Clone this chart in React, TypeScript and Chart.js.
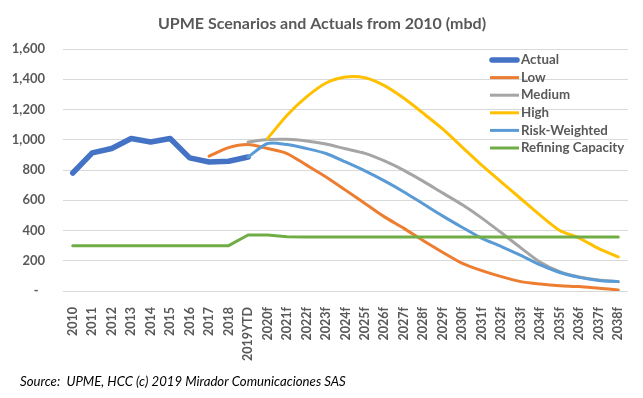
import React, { useEffect, useRef } from 'react';
import { Chart, registerables } from 'chart.js';

Chart.register(...registerables);

const categories = [
  '2010', '2011', '2012', '2013', '2014', '2015', '2016', '2017', '2018', '2019YTD',
  '2020f', '2021f', '2022f', '2023f', '2024f', '2025f', '2026f', '2027f', '2028f', '2029f',
  '2030f', '2031f', '2032f', '2033f', '2034f', '2035f', '2036f', '2037f', '2038f',
];

const N = null;
const actual = [780, 913, 942, 1008, 985, 1008, 880, 853, 858, 886,
  N, N, N, N, N, N, N, N, N, N, N, N, N, N, N, N, N, N, N];
const low = [N, N, N, N, N, N, N, 891, 948, 968,
  942, 909, 832, 754, 667, 579, 490, 414, 332, 255, 183, 135, 95, 62, 46, 35, 29, 18, 7];
const medium = [N, N, N, N, N, N, N, N, N, 985,
  1001, 1003, 992, 972, 940, 910, 860, 798, 725, 647, 570, 482, 385, 285, 190, 128, 92, 72, 62];
const high = [N, N, N, N, N, N, N, N, N, N,
  1008, 1162, 1283, 1375, 1415, 1410, 1358, 1274, 1174, 1070, 950, 830, 720, 610, 500, 400, 350, 280, 225];
const riskWeighted = [N, N, N, N, N, N, N, N, N, 886,
  975, 968, 942, 909, 853, 794, 728, 655, 575, 495, 420, 348, 294, 235, 172, 122, 90, 70, 62];
const refiningCapacity = [300, 300, 300, 300, 300, 300, 300, 300, 300, 370,
  370, 358, 357, 357, 357, 357, 357, 357, 357, 357, 357, 357, 357, 357, 357, 357, 357, 357, 357];

const seriesNames = ['Actual', 'Low', 'Medium', 'High', 'Risk-Weighted', 'Refining Capacity'];
const seriesColors = ['#4472C4', '#ED7D31', '#A5A5A5', '#FFC000', '#5B9BD5', '#70AD47'];
const seriesWidths = [5.5, 3, 3, 3, 3, 3];

const titleText = 'UPME Scenarios and Actuals from 2010 (mbd)';
const sourceText = 'Source:  UPME, HCC (c) 2019 Mirador Comunicaciones SAS';

const FONT = 'Lato, "Open Sans", sans-serif';
const TEXT = '#595959';

const overlayPlugin = {
  id: 'overlay',
  beforeDraw(chart: any) {
    const { ctx, width, height } = chart;
    ctx.save();
    ctx.fillStyle = '#ffffff';
    ctx.fillRect(0, 0, width, height);
    ctx.restore();
  },
  afterDraw(chart: any) {
    const { ctx } = chart;
    ctx.save();
    // title
    ctx.fillStyle = TEXT;
    ctx.font = `bold 16px ${FONT}`;
    ctx.textAlign = 'center';
    ctx.textBaseline = 'middle';
    ctx.fillText(titleText, 322, 24);
    // legend
    const lx = 490;
    const ly = 60;
    const step = 17.6;
    chart.data.datasets.forEach((ds: any, i: number) => {
      const y = ly + i * step;
      ctx.beginPath();
      ctx.strokeStyle = ds.borderColor;
      ctx.lineWidth = ds.borderWidth;
      ctx.lineCap = i === 0 ? 'round' : 'butt';
      ctx.moveTo(lx + (i === 0 ? 2 : 0), y);
      ctx.lineTo(lx + 29 - (i === 0 ? 2 : 0), y);
      ctx.stroke();
      ctx.fillStyle = TEXT;
      ctx.font = `bold 13.3px ${FONT}`;
      ctx.textAlign = 'left';
      ctx.textBaseline = 'middle';
      ctx.fillText(ds.label, lx + 31, y);
    });
    // source
    ctx.fillStyle = '#000000';
    ctx.font = `italic 13.2px ${FONT}`;
    ctx.textAlign = 'left';
    ctx.textBaseline = 'middle';
    ctx.fillText(sourceText, 20, 382);
    ctx.restore();
  },
};

export default function App() {
  const ref = useRef<HTMLCanvasElement>(null);
  useEffect(() => {
    const canvas = ref.current;
    if (!canvas) return;
    const dataSeries = [actual, low, medium, high, riskWeighted, refiningCapacity];
    const chart = new Chart(canvas, {
      type: 'line',
      data: {
        labels: categories,
        datasets: dataSeries.map((d, i) => ({
          label: seriesNames[i],
          data: d,
          borderColor: seriesColors[i],
          backgroundColor: seriesColors[i],
          borderWidth: seriesWidths[i],
          pointRadius: 0,
          tension: i === 0 || i === 5 ? 0 : 0.25,
          spanGaps: false,
          order: 6 - i,
          borderCapStyle: 'round',
          borderJoinStyle: 'round',
        })),
      },
      options: {
        responsive: false,
        animation: false,
        devicePixelRatio: 1,
        layout: { padding: { top: 49, right: 15, left: 0, bottom: 0 } },
        plugins: {
          legend: { display: false },
          title: { display: false },
          tooltip: { enabled: false },
        },
        scales: {
          x: {
            type: 'category',
            offset: true,
            grid: { display: false },
            border: { display: false },
            ticks: {
              autoSkip: false,
              minRotation: 90,
              maxRotation: 90,
              padding: 8,
              color: TEXT,
              font: { family: FONT, weight: 'bold', size: 12.5 },
            },
            afterFit: (s: any) => { s.height = 107; },
          },
          y: {
            min: 0,
            max: 1600,
            ticks: {
              stepSize: 200,
              padding: 18,
              color: TEXT,
              font: { family: FONT, weight: 'bold', size: 13 },
              callback: (v: any) => (Number(v) === 0 ? '-  ' : Number(v).toLocaleString('en-US')),
            },
            grid: { color: '#D9D9D9', drawTicks: false, lineWidth: 1 },
            border: { display: false },
            afterFit: (s: any) => { s.width = 63; },
          },
        },
      } as any,
      plugins: [overlayPlugin],
    });
    return () => chart.destroy();
  }, []);
  return (
    <div style={{ position: 'absolute', left: 0, top: 0, width: 643, height: 398, background: '#fff' }}>
      <canvas ref={ref} width={643} height={398} style={{ display: 'block', width: 643, height: 398 }} />
    </div>
  );
}
